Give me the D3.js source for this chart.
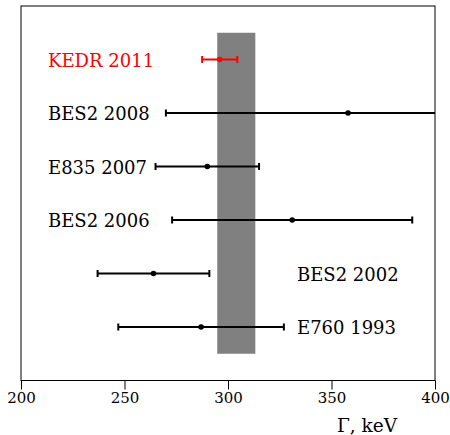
<!DOCTYPE html>
<html>
<head>
<meta charset="utf-8">
<script src="https://cdn.jsdelivr.net/npm/d3@7"></script>
<style>
  body { margin: 0; background: #fff; }
</style>
</head>
<body>
<script>
// measurements of the width, keV
const experiments = ["KEDR 2011", "BES2 2008", "E835 2007", "BES2 2006", "BES2 2002", "E760 1993"];
const values = [296, 358, 290, 331, 264, 287];
const errors = [8.5, 88, 25, 58, 27, 40];
const colors = ["red", "black", "black", "black", "black", "black"];
// labels drawn on the right side of the bar
const rightLabeled = ["BES2 2002", "E760 1993"];

// average band
const average = 304;
const averageErr = 9.2;

const xTicks = [200, 250, 300, 350, 400];

const width = 450;
const height = 435;
const margin = { top: 6, right: 15, bottom: 54.5, left: 21 };
const serif = "DejaVu Serif";

const svg = d3.select('body')
  .append('svg')
  .attr('width', width)
  .attr('height', height);

const x = d3.scaleLinear()
  .domain([200, 400])
  .range([margin.left, width - margin.right]);

// one row step of space above the first row and below the last
const y = d3.scaleLinear()
  .domain([-1, experiments.length])
  .range([margin.top, height - margin.bottom]);

svg.append('clipPath')
  .attr('id', 'plot')
  .append('rect')
  .attr('x', margin.left)
  .attr('y', margin.top)
  .attr('width', x(400) - x(200))
  .attr('height', y(experiments.length) - y(-1));

// gray band
svg.append('rect')
  .attr('x', x(average - averageErr))
  .attr('y', y(-0.5))
  .attr('width', x(average + averageErr) - x(average - averageErr))
  .attr('height', y(experiments.length - 0.5) - y(-0.5))
  .attr('fill', '#808080');

const g = svg.append('g').attr('clip-path', 'url(#plot)');

experiments.forEach((d, i) => {
  const lo = values[i] - errors[i];
  const hi = values[i] + errors[i];
  const cy = y(i);

  g.append('line')
    .attr('x1', x(lo)).attr('x2', x(hi))
    .attr('y1', cy).attr('y2', cy)
    .attr('stroke', colors[i])
    .attr('stroke-width', 2);

  [lo, hi].forEach(v => {
    g.append('line')
      .attr('x1', x(v)).attr('x2', x(v))
      .attr('y1', cy - 3.5).attr('y2', cy + 3.5)
      .attr('stroke', colors[i])
      .attr('stroke-width', 2);
  });

  g.append('circle')
    .attr('cx', x(values[i]))
    .attr('cy', cy)
    .attr('r', 2.8)
    .attr('fill', colors[i]);

  const right = rightLabeled.includes(d);
  svg.append('text')
    .attr('x', right ? 297 : 48)
    .attr('y', cy + 7)
    .attr('font-family', serif)
    .attr('font-size', 18)
    .attr('fill', colors[i])
    .text(d);
});

// frame
svg.append('rect')
  .attr('x', margin.left)
  .attr('y', margin.top)
  .attr('width', x(400) - x(200))
  .attr('height', y(experiments.length) - y(-1))
  .attr('fill', 'none')
  .attr('stroke', 'black')
  .attr('stroke-width', 1);

// axis
const axis = svg.append('g')
  .attr('transform', `translate(0,${height - margin.bottom})`)
  .call(d3.axisBottom(x).tickValues(xTicks).tickSize(9).tickPadding(3));

axis.attr('font-family', serif).attr('font-size', 15);
axis.select('.domain').remove();
axis.selectAll('.tick line').attr('stroke', 'black');
axis.selectAll('.tick text').attr('fill', 'black');

svg.append('text')
  .attr('x', 397)
  .attr('y', 432)
  .attr('text-anchor', 'end')
  .attr('font-family', serif)
  .attr('font-size', 18.5)
  .text('Γ, keV');
</script>
</body>
</html>
